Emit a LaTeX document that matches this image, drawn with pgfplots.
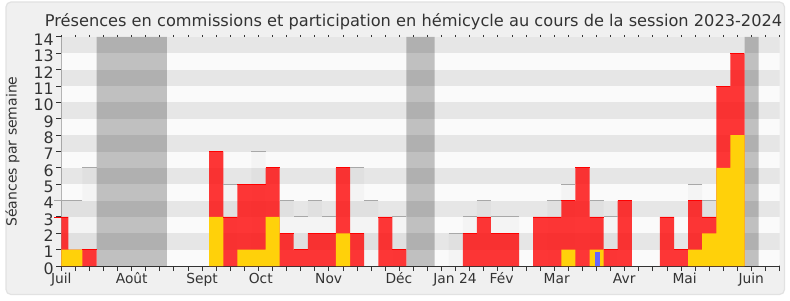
\documentclass[border=0pt]{standalone}
\usepackage{fontspec}
\setmainfont{DejaVu Sans}
\usepackage{pgfplots}
\pgfplotsset{compat=1.18}
\definecolor{stripeA}{HTML}{E6E6E6}
\definecolor{stripeB}{HTML}{FAFAFA}
\definecolor{frameBg}{HTML}{F0F0F0}
\definecolor{frameBd}{HTML}{E2E2E2}
\definecolor{barRed}{HTML}{FF0000}
\definecolor{barYel}{HTML}{FFD10A}
\definecolor{barBlue}{HTML}{6666FF}
\definecolor{txt}{HTML}{333333}
\definecolor{medLine}{HTML}{A8A8A8}
\begin{document}
\begin{tikzpicture}[x=1bp,y=1bp]
\useasboundingbox (0,0) rectangle (790,300);
\fill[white] (0,0) rectangle (790,300);
\draw[frameBd, fill=frameBg, line width=1.2bp, rounded corners=5bp] (6,5.5) rectangle (784.5,298);
\node[anchor=base, txt, font=\fontsize{16.2bp}{19bp}\selectfont] at (413.5,273.3) {Présences en commissions et participation en hémicycle au cours de la session 2023-2024};
\node[anchor=center, rotate=90, txt, font=\fontsize{14bp}{17bp}\selectfont] at (12.5,148.5) {Séances par semaine};
\begin{axis}[
  at={(61.3bp,34bp)}, anchor=south west,
  width=718.4bp, height=229bp, scale only axis,
  xmin=0, xmax=51, ymin=0, ymax=14,
  axis lines*=left, axis line style={-, txt, line width=1.2bp},
  xtick={0,...,51}, xticklabels={},
  ytick={0,...,14},
  tick align=outside, major tick length=5bp,
  tick style={txt, line width=1bp},
  /pgf/number format/assume math mode=true,
  yticklabel style={font=\fontsize{15.8bp}{17bp}\selectfont, text=txt, yshift=-2.5bp, xshift=1bp},
  extra x ticks={0,5,10,14.16,18.98,23.97,27.95,31.25,35.17,39.96,44.25,48.98},
  extra x tick labels={Juil,Août,Sept,Oct,Nov,Déc,Jan 24,Fév,Mar,Avr,Mai,Juin},
  extra x tick style={major tick length=0pt, xticklabel style={anchor=base, yshift=-17bp, font=\fontsize{13.8bp}{16bp}\selectfont, text=txt}},
]
% background stripes
\pgfplotsinvokeforeach{0,2,4,6,8,10,12}{
  \fill[stripeB] (axis cs:-1,#1) rectangle (axis cs:52,#1+1);
}
\pgfplotsinvokeforeach{1,3,5,7,9,11,13}{
  \fill[stripeA] (axis cs:-1,#1) rectangle (axis cs:52,#1+1);
}
% median of deputies
\addplot[ybar, bar width=1, bar shift=0pt, fill=black, fill opacity=0.025, draw=none] coordinates {
(0,4)(1,4)(2,6)(12,5)(14,7)(16,4)(17,3)(18,4)(19,3)(21,6)(22,4)(24,3)(28,2)(29,3)(30,4)(31,3)(32,3)(35,4)(36,5)(38,4)(39,3)(45,5)(46,4)};
\addplot[only marks, mark=-, mark size=7.04bp, mark options={draw=medLine, line width=1bp}] coordinates {
(0,4)(1,4)(2,6)(12,5)(14,7)(16,4)(17,3)(18,4)(19,3)(21,6)(22,4)(24,3)(28,2)(29,3)(30,4)(31,3)(32,3)(35,4)(36,5)(38,4)(39,3)(45,5)(46,4)};
% holidays
\addplot[ybar, bar width=1, bar shift=0pt, fill=black, fill opacity=0.23, draw=none] coordinates {
(3,14)(4,14)(5,14)(6,14)(7,14)(25,14)(26,14)(49,14)};
% red
\addplot[ybar, bar width=1, bar shift=0pt, fill=barRed, fill opacity=0.78, draw=none] coordinates {
(0,3)(1,1)(2,1)(11,7)(12,3)(13,5)(14,5)(15,6)(16,2)(17,1)(18,2)(19,2)(20,6)(21,2)(23,3)(24,1)(29,2)(30,3)(31,2)(32,2)(34,3)(35,3)(36,4)(37,6)(38,3)(39,1)(40,4)(43,3)(44,1)(45,4)(46,3)(47,11)(48,13)};
\addplot[only marks, mark=-, mark size=7.04bp, mark options={draw=barRed, line width=0.8bp}] coordinates {
(0,3)(2,1)(11,7)(12,3)(13,5)(14,5)(15,6)(16,2)(17,1)(18,2)(19,2)(20,6)(21,2)(23,3)(24,1)(29,2)(30,3)(31,2)(32,2)(34,3)(35,3)(36,4)(37,6)(38,3)(39,1)(40,4)(43,3)(44,1)(45,4)(46,3)(47,11)(48,13)};
% yellow
\addplot[ybar, bar width=1, bar shift=0pt, fill=barYel, draw=none] coordinates {
(0,1)(1,1)(11,3)(13,1)(14,1)(15,3)(20,2)(36,1)(38,1)(45,1)(46,2)(47,6)(48,8)};
% blue
\addplot[ybar, bar width=0.36, bar shift=0pt, fill=barBlue, draw=none] coordinates {(38.04,0.87)};
\end{axis}
\begin{axis}[
  at={(61.3bp,34bp)}, anchor=south west,
  width=718.4bp, height=229bp, scale only axis,
  xmin=0, xmax=51, ymin=0, ymax=14,
  axis line style={draw=none},
  xtick={0,...,51}, xticklabels={}, xtick pos=top,
  ytick=\empty,
  tick align=outside, major tick length=2bp,
  tick style={txt, line width=1bp},
]
\end{axis}
\end{tikzpicture}
\end{document}
